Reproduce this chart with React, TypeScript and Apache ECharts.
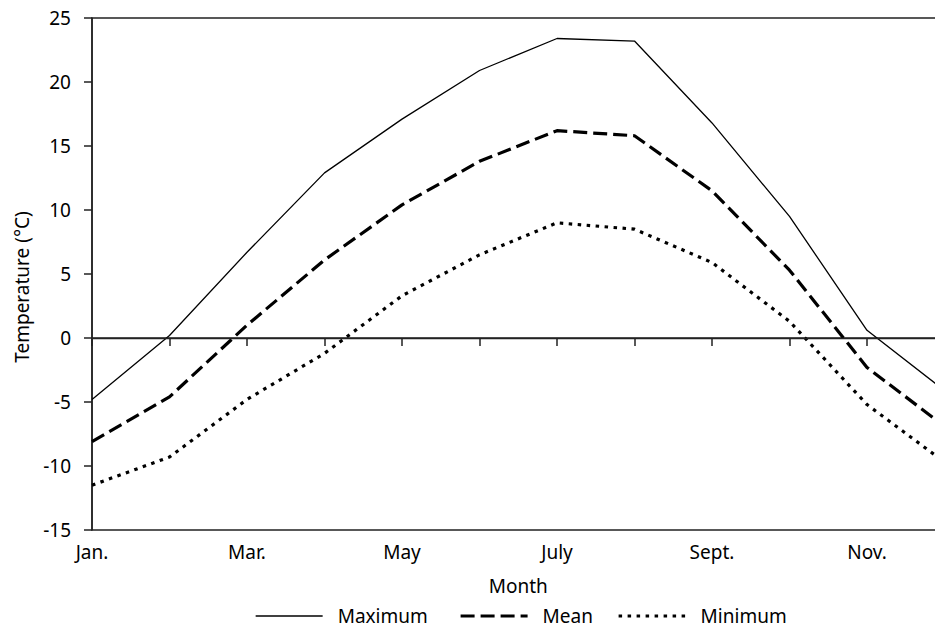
import React, { useEffect, useRef } from "react";
import * as echarts from "echarts";

const months = ["Jan.", "Feb.", "Mar.", "Apr.", "May", "June", "July", "Aug.", "Sept.", "Oct.", "Nov.", "Dec."];
const maxTemp = [-4.8, 0.2, 6.7, 12.9, 17.1, 20.9, 23.4, 23.2, 16.8, 9.5, 0.6, -4.1];
const meanTemp = [-8.1, -4.6, 1.0, 6.1, 10.4, 13.8, 16.2, 15.8, 11.5, 5.3, -2.3, -6.9];
const minTemp = [-11.5, -9.3, -4.8, -1.2, 3.3, 6.5, 9.0, 8.5, 5.9, 1.3, -5.2, -9.7];
const seriesNames = ["Maximum", "Mean", "Minimum"];
const yTitle = "Temperature (°C)";
const xTitle = "Month";

const FONT = "Noto Sans";
const FS = 19;

const styles = [
  { color: "#000", width: 1.3, type: "solid" as any },
  { color: "#000", width: 3.2, type: [14, 6] as any },
  { color: "#000", width: 3.2, type: [3.5, 5.5] as any },
];

export default function App() {
  const ref = useRef<HTMLDivElement>(null);
  useEffect(() => {
    if (!ref.current) return;
    const chart = echarts.init(ref.current, undefined, { renderer: "svg" });
    const legendBase = {
      top: 606,
      itemWidth: 67,
      itemHeight: 20,
      padding: 0,
      itemStyle: { opacity: 0 },
      textStyle: { fontFamily: FONT, fontSize: FS, lineHeight: 20, color: "#000", padding: [0, 0, 0, 10] },
      selectedMode: false,
    };
    const lefts = [255, 459, 617];
    chart.setOption({
      animation: false,
      textStyle: { fontFamily: FONT },
      grid: {
        left: 92,
        right: 0.5,
        top: 18,
        bottom: 101,
        show: true,
        borderColor: "#222",
        borderWidth: 1.5,
      },
      legend: seriesNames.map((n, i) => ({
        ...legendBase,
        left: lefts[i],
        data: [n],
        lineStyle: { ...styles[i] },
      })),
      xAxis: {
        type: "category",
        data: months,
        boundaryGap: false,
        name: xTitle,
        nameLocation: "middle",
        nameGap: 46,
        nameTextStyle: { fontFamily: FONT, fontSize: FS, color: "#000" },
        axisLine: { lineStyle: { color: "#222", width: 1.5 } },
        axisTick: { show: true, interval: 0, length: 8, lineStyle: { color: "#222", width: 1.5 } },
        axisLabel: { interval: 1, margin: 12, fontFamily: FONT, fontSize: FS, color: "#000" },
        splitLine: { show: false },
      },
      yAxis: {
        type: "value",
        min: -15,
        max: 25,
        interval: 5,
        axisLine: { show: true, lineStyle: { color: "#222", width: 1.5 } },
        axisTick: { show: true, length: 8, lineStyle: { color: "#222", width: 1.5 } },
        axisLabel: { margin: 21, fontFamily: FONT, fontSize: FS, color: "#000" },
        splitLine: { show: false },
      },
      graphic: [
        {
          type: "text",
          x: 22,
          y: 287,
          rotation: Math.PI / 2,
          style: {
            text: yTitle,
            font: `${FS}px "${FONT}"`,
            fill: "#000",
            align: "center",
            verticalAlign: "middle",
          },
        },
      ],
      series: [
        {
          name: seriesNames[0],
          type: "line",
          data: maxTemp,
          symbol: "none",
          lineStyle: styles[0],
          itemStyle: { color: "#000" },
          markLine: {
            silent: true,
            symbol: "none",
            label: { show: false },
            lineStyle: { color: "#222", width: 1.3, type: "solid" },
            data: [{ yAxis: 0 }],
          },
        },
        {
          name: seriesNames[1],
          type: "line",
          data: meanTemp,
          symbol: "none",
          lineStyle: styles[1],
          itemStyle: { color: "#000" },
        },
        {
          name: seriesNames[2],
          type: "line",
          data: minTemp,
          symbol: "none",
          lineStyle: styles[2],
          itemStyle: { color: "#000" },
        },
      ],
    });
    return () => chart.dispose();
  }, []);
  return (
    <div style={{ position: "fixed", left: 0, top: 0, width: 935, height: 631, overflow: "hidden", background: "#fff" }}>
      <div ref={ref} style={{ width: 945, height: 631 }} />
    </div>
  );
}
